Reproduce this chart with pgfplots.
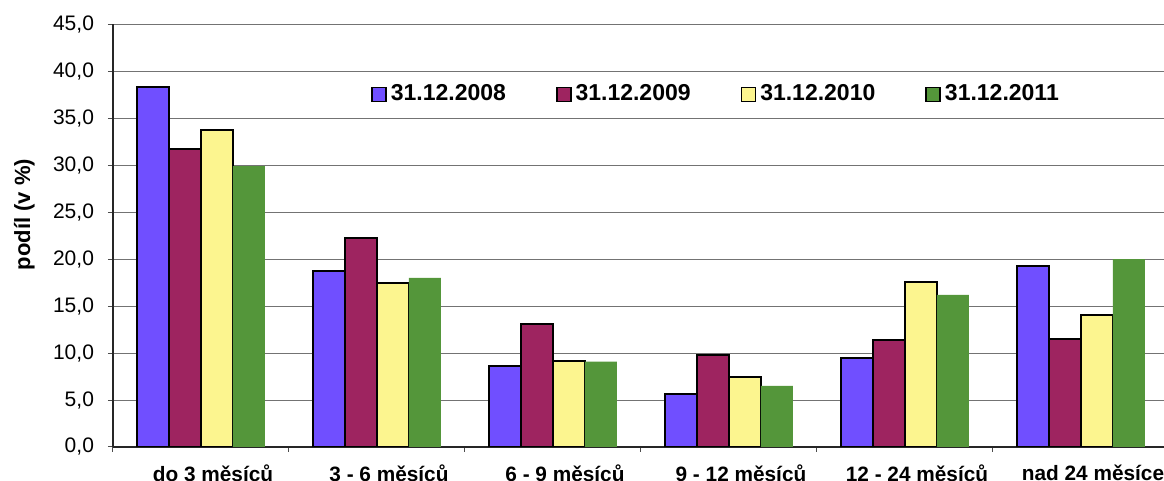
\documentclass[border=0pt]{standalone}
\usepackage{pgfplots}
\pgfplotsset{compat=1.18}
\usepackage{fontspec}
\setmainfont{Liberation Sans}
\definecolor{cBlue}{RGB}{112,79,255}
\definecolor{cMaroon}{RGB}{158,36,96}
\definecolor{cYellow}{RGB}{252,245,143}
\definecolor{cGreen}{RGB}{84,150,58}
\pgfplotsset{
  mybar/.style={legend image code/.code={\draw[##1, line width=0.8pt] (-2.5pt,-3.5pt) rectangle (4.5pt,3.5pt);}},
}
\begin{document}
\begin{tikzpicture}
\path[use as bounding box] (-56.5pt,-17pt) rectangle (525.5pt,223.5pt);
\begin{axis}[
  at={(0,0)}, anchor=south west,
  scale only axis, width=528pt, height=211.35pt,
  xmin=-0.5, xmax=5.5, ymin=0, ymax=45,
  ybar=0pt, bar width=16pt,
  axis lines*=left,
  axis line style={black!85, line width=0.6pt},
  ytick={0,5,...,45},
  ymajorgrids,
  major grid style={black!55, line width=0.5pt},
  tick align=outside,
  major tick length=2.5pt,
  tick style={black!70, line width=0.5pt},
  /pgf/number format/assume math mode=true,
  yticklabel style={/pgf/number format/.cd, fixed, fixed zerofill, precision=1, use comma, /tikz/.cd, font=\fontsize{10.5}{12}\selectfont, xshift=-3.5pt},
  xtick={-0.5,0.5,...,5.5},
  xticklabels={},
  extra x ticks={0,1,2,3,4,5},
  extra x tick labels={do 3 měsíců, 3 - 6 měsíců, 6 - 9 měsíců, 9 - 12 měsíců, 12 - 24 měsíců, nad 24 měsíce},
  extra x tick style={major tick length=0pt, grid=none, xticklabel style={font=\bfseries\fontsize{10.4}{12}\selectfont, yshift=-5.5pt, xshift=6pt}},
  ylabel={podíl (v \%)},
  ylabel style={font=\bfseries\fontsize{11}{13}\selectfont, at={(axis description cs:-0.084,0.55)}, anchor=center},
  legend columns=4,
  legend style={at={(0.572,0.834)}, anchor=center, draw=none, fill=none,
    font=\bfseries\fontsize{11.5}{13}\selectfont,
    /tikz/every even column/.append style={column sep=23pt},
    nodes={inner xsep=2pt}},
  legend cell align=left,
]
\addplot[mybar, fill=cBlue, draw=black, line width=1pt] coordinates {(0,38.3)(1,18.7)(2,8.6)(3,5.6)(4,9.5)(5,19.3)};
\addplot[mybar, fill=cMaroon, draw=black, line width=1pt] coordinates {(0,31.7)(1,22.2)(2,13.1)(3,9.8)(4,11.4)(5,11.5)};
\addplot[mybar, fill=cYellow, draw=black, line width=1pt] coordinates {(0,33.8)(1,17.5)(2,9.2)(3,7.5)(4,17.6)(5,14.1)};
\addplot[mybar, fill=cGreen, draw=none] coordinates {(0,29.9)(1,18.0)(2,9.1)(3,6.5)(4,16.2)(5,20.0)};
\legend{31.12.2008, 31.12.2009, 31.12.2010, 31.12.2011}
\end{axis}
\end{tikzpicture}
\end{document}
